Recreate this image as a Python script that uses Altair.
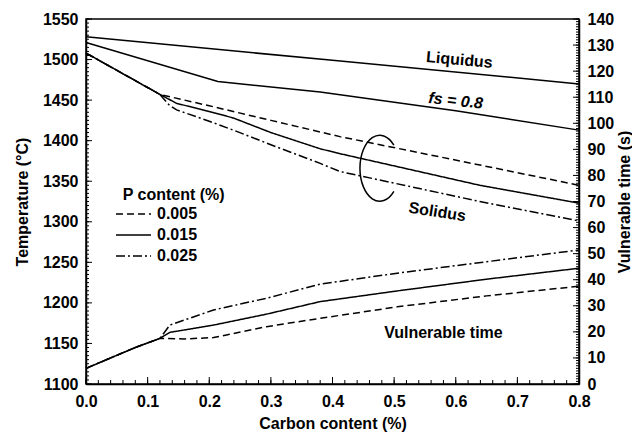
import altair as alt
import pandas as pd

FONT = "Liberation Sans"

# ---- data ----
P_LEVELS = ["0.005", "0.015", "0.025"]

C_LIQ = [0.0, 0.4, 0.8]
T_LIQ = [1528, 1499, 1470]

C_FS = [0.0, 0.214, 0.38, 0.6, 0.8]
T_FS = [1521, 1473, 1460, 1437, 1413]

C_SOL_COMMON = [0.0, 0.04, 0.08, 0.12]
T_SOL_COMMON = [1508, 1491, 1474, 1457]
C_SOL_005 = [0.16, 0.2, 0.3, 0.412, 0.639, 0.8]
T_SOL_005 = [1450, 1443, 1425, 1405, 1370, 1345]
C_SOL_015 = [0.147, 0.2, 0.239, 0.3, 0.38, 0.412, 0.639, 0.8]
T_SOL_015 = [1446, 1436, 1428, 1410, 1390, 1384, 1345, 1323]
C_SOL_025 = [0.135, 0.147, 0.2, 0.239, 0.3, 0.38, 0.412, 0.639, 0.8]
T_SOL_025 = [1444, 1438, 1424, 1413, 1395, 1372, 1362, 1325, 1301]

C_VUL_COMMON = [0.0, 0.04, 0.08, 0.12]
S_VUL_COMMON = [6.0, 10.0, 14.0, 17.5]
C_VUL_005 = [0.16, 0.207, 0.293, 0.38, 0.505, 0.65, 0.8]
S_VUL_005 = [17.3, 17.8, 22.0, 25.2, 29.6, 33.8, 37.5]
C_VUL_015 = [0.136, 0.207, 0.293, 0.38, 0.505, 0.65, 0.8]
S_VUL_015 = [19.8, 22.6, 26.8, 31.6, 35.7, 40.2, 44.4]
C_VUL_025 = [0.136, 0.207, 0.293, 0.38, 0.505, 0.65, 0.8]
S_VUL_025 = [22.6, 28.4, 32.9, 38.3, 42.5, 46.9, 51.4]

X_TICKS = [0.0, 0.1, 0.2, 0.3, 0.4, 0.5, 0.6, 0.7, 0.8]
Y_LEFT_TICKS = [1100, 1150, 1200, 1250, 1300, 1350, 1400, 1450, 1500, 1550]
Y_RIGHT_TICKS = [0, 10, 20, 30, 40, 50, 60, 70, 80, 90, 100, 110, 120, 130, 140]
X_MINOR = [i / 50 for i in range(0, 41)]
Y_LEFT_MINOR = list(range(1100, 1551, 5))
Y_RIGHT_MINOR = list(range(0, 141, 1))

W, H = 493, 365

# ---- tables ----
def series(cs, vs, p, key):
    return pd.DataFrame({"C": cs, key: vs, "P": p})

sol = pd.concat([
    series(C_SOL_COMMON + C_SOL_005, T_SOL_COMMON + T_SOL_005, P_LEVELS[0], "T"),
    series(C_SOL_COMMON + C_SOL_015, T_SOL_COMMON + T_SOL_015, P_LEVELS[1], "T"),
    series(C_SOL_COMMON + C_SOL_025, T_SOL_COMMON + T_SOL_025, P_LEVELS[2], "T"),
])
vul = pd.concat([
    series(C_VUL_COMMON + C_VUL_005, S_VUL_COMMON + S_VUL_005, P_LEVELS[0], "S"),
    series(C_VUL_COMMON + C_VUL_015, S_VUL_COMMON + S_VUL_015, P_LEVELS[1], "S"),
    series(C_VUL_COMMON + C_VUL_025, S_VUL_COMMON + S_VUL_025, P_LEVELS[2], "S"),
])
liq = pd.DataFrame({"C": C_LIQ, "T": T_LIQ})
fs = pd.DataFrame({"C": C_FS, "T": T_FS})

xscale = alt.Scale(domain=[0, 0.8], nice=False, zero=False)
lscale = alt.Scale(domain=[1100, 1550], nice=False, zero=False)
rscale = alt.Scale(domain=[0, 140], nice=False, zero=False)

dash = alt.StrokeDash(
    "P:N",
    scale=alt.Scale(domain=P_LEVELS, range=[[7, 4], [1, 0], [9, 3, 2, 3]]),
    legend=alt.Legend(
        title=None, orient="none", legendX=29, legendY=184,
        symbolType="M -1 0 H 2.5", symbolSize=400, symbolStrokeWidth=1.5,
        symbolStrokeColor="black", labelFontSize=16, labelFont=FONT,
        labelFontWeight="bold", labelOffset=20, rowPadding=2, padding=0,
    ),
)

X_AX = alt.X("C:Q", scale=xscale, axis=alt.Axis(
    values=X_TICKS, format=".1f", title="Carbon content (%)", labelPadding=9,
    titlePadding=6, labelFlush=False))
YL_AX = alt.Y("T:Q", scale=lscale, axis=alt.Axis(
    values=Y_LEFT_TICKS, format="d", title="Temperature (°C)", titlePadding=12,
    labelFlush=False))
YR_AX = alt.Y("S:Q", scale=rscale, axis=alt.Axis(
    values=Y_RIGHT_TICKS, format="d", orient="right", title="Vulnerable time (s)",
    titleAngle=270, titleBaseline="top", titlePadding=3, labelFlush=False))

line = dict(color="black", strokeWidth=1.5)

sol_layer = alt.Chart(sol).mark_line(**line).encode(x=X_AX, y=YL_AX, strokeDash=dash)
liq_layer = alt.Chart(liq).mark_line(**line).encode(x=X_AX, y=YL_AX)
fs_layer = alt.Chart(fs).mark_line(**line).encode(x=X_AX, y=YL_AX)

def rules_y(vals, length, field, yenc, side):
    df = pd.DataFrame({field: vals})
    x0 = 0 if side == "left" else W
    x1 = length if side == "left" else W - length
    return alt.Chart(df).mark_rule(color="black", strokeWidth=1).encode(
        y=yenc, x=alt.value(x0), x2=alt.value(x1))

def rules_x(vals, length):
    df = pd.DataFrame({"C": vals})
    return alt.Chart(df).mark_rule(color="black", strokeWidth=1).encode(
        x=X_AX, y=alt.value(H), y2=alt.value(H - length))

def label(text, c, t, angle=0, italic=False, align="center", size=16):
    df = pd.DataFrame({"C": [c], "T": [t], "txt": [text]})
    return alt.Chart(df).mark_text(
        font=FONT, fontSize=size, fontWeight="bold",
        fontStyle="italic" if italic else "normal", angle=angle, align=align,
        baseline="middle", color="black").encode(x=X_AX, y=YL_AX, text="txt:N")

ellipse = alt.Chart(pd.DataFrame({"C": [0.4755], "T": [1366]})).mark_point(
    shape="M 0.45 -0.7 A 0.6 1 0 1 0 0.45 0.7",
    size=4356, filled=False, color="black", strokeWidth=1.5, opacity=1,
).encode(x=X_AX, y=YL_AX)

left = alt.layer(
    sol_layer, liq_layer, fs_layer,
    rules_y(Y_LEFT_MINOR, 3, "T", YL_AX, "left"),
    rules_y(Y_LEFT_TICKS, 6, "T", YL_AX, "left"),
    rules_x(X_MINOR, 4),
    rules_x(X_TICKS, 7),
    label("Liquidus", 0.606, 1499.4, angle=5),
    label("fs = 0.8", 0.600, 1449, angle=6, italic=True),
    label("Solidus", 0.570, 1312, angle=9),
    label("Vulnerable time", 0.58, 1162.5),
    label("P content (%)", 0.0596, 1333, align="left"),
    ellipse,
)

vul_layer = alt.Chart(vul).mark_line(**line).encode(x=X_AX, y=YR_AX, strokeDash="P:N")
right = alt.layer(
    vul_layer,
    rules_y(Y_RIGHT_MINOR, 3, "S", YR_AX, "right"),
    rules_y(Y_RIGHT_TICKS, 6, "S", YR_AX, "right"),
)

chart = alt.layer(left, right).resolve_scale(y="independent").properties(
    width=W, height=H, autosize="none",
    padding={"left": 78, "top": 11, "right": 53, "bottom": 49},
).configure_view(stroke="black", strokeWidth=1.5).configure_axis(
    labelFont=FONT, labelFontSize=16, labelFontWeight="bold", labelColor="black",
    titleFont=FONT, titleFontSize=16, titleFontWeight="bold", titleColor="black",
    domainColor="black", domainWidth=1.5, ticks=False, grid=False, labelPadding=8,
)

chart.save("out.html", embed_options={"renderer": "svg", "actions": False})
